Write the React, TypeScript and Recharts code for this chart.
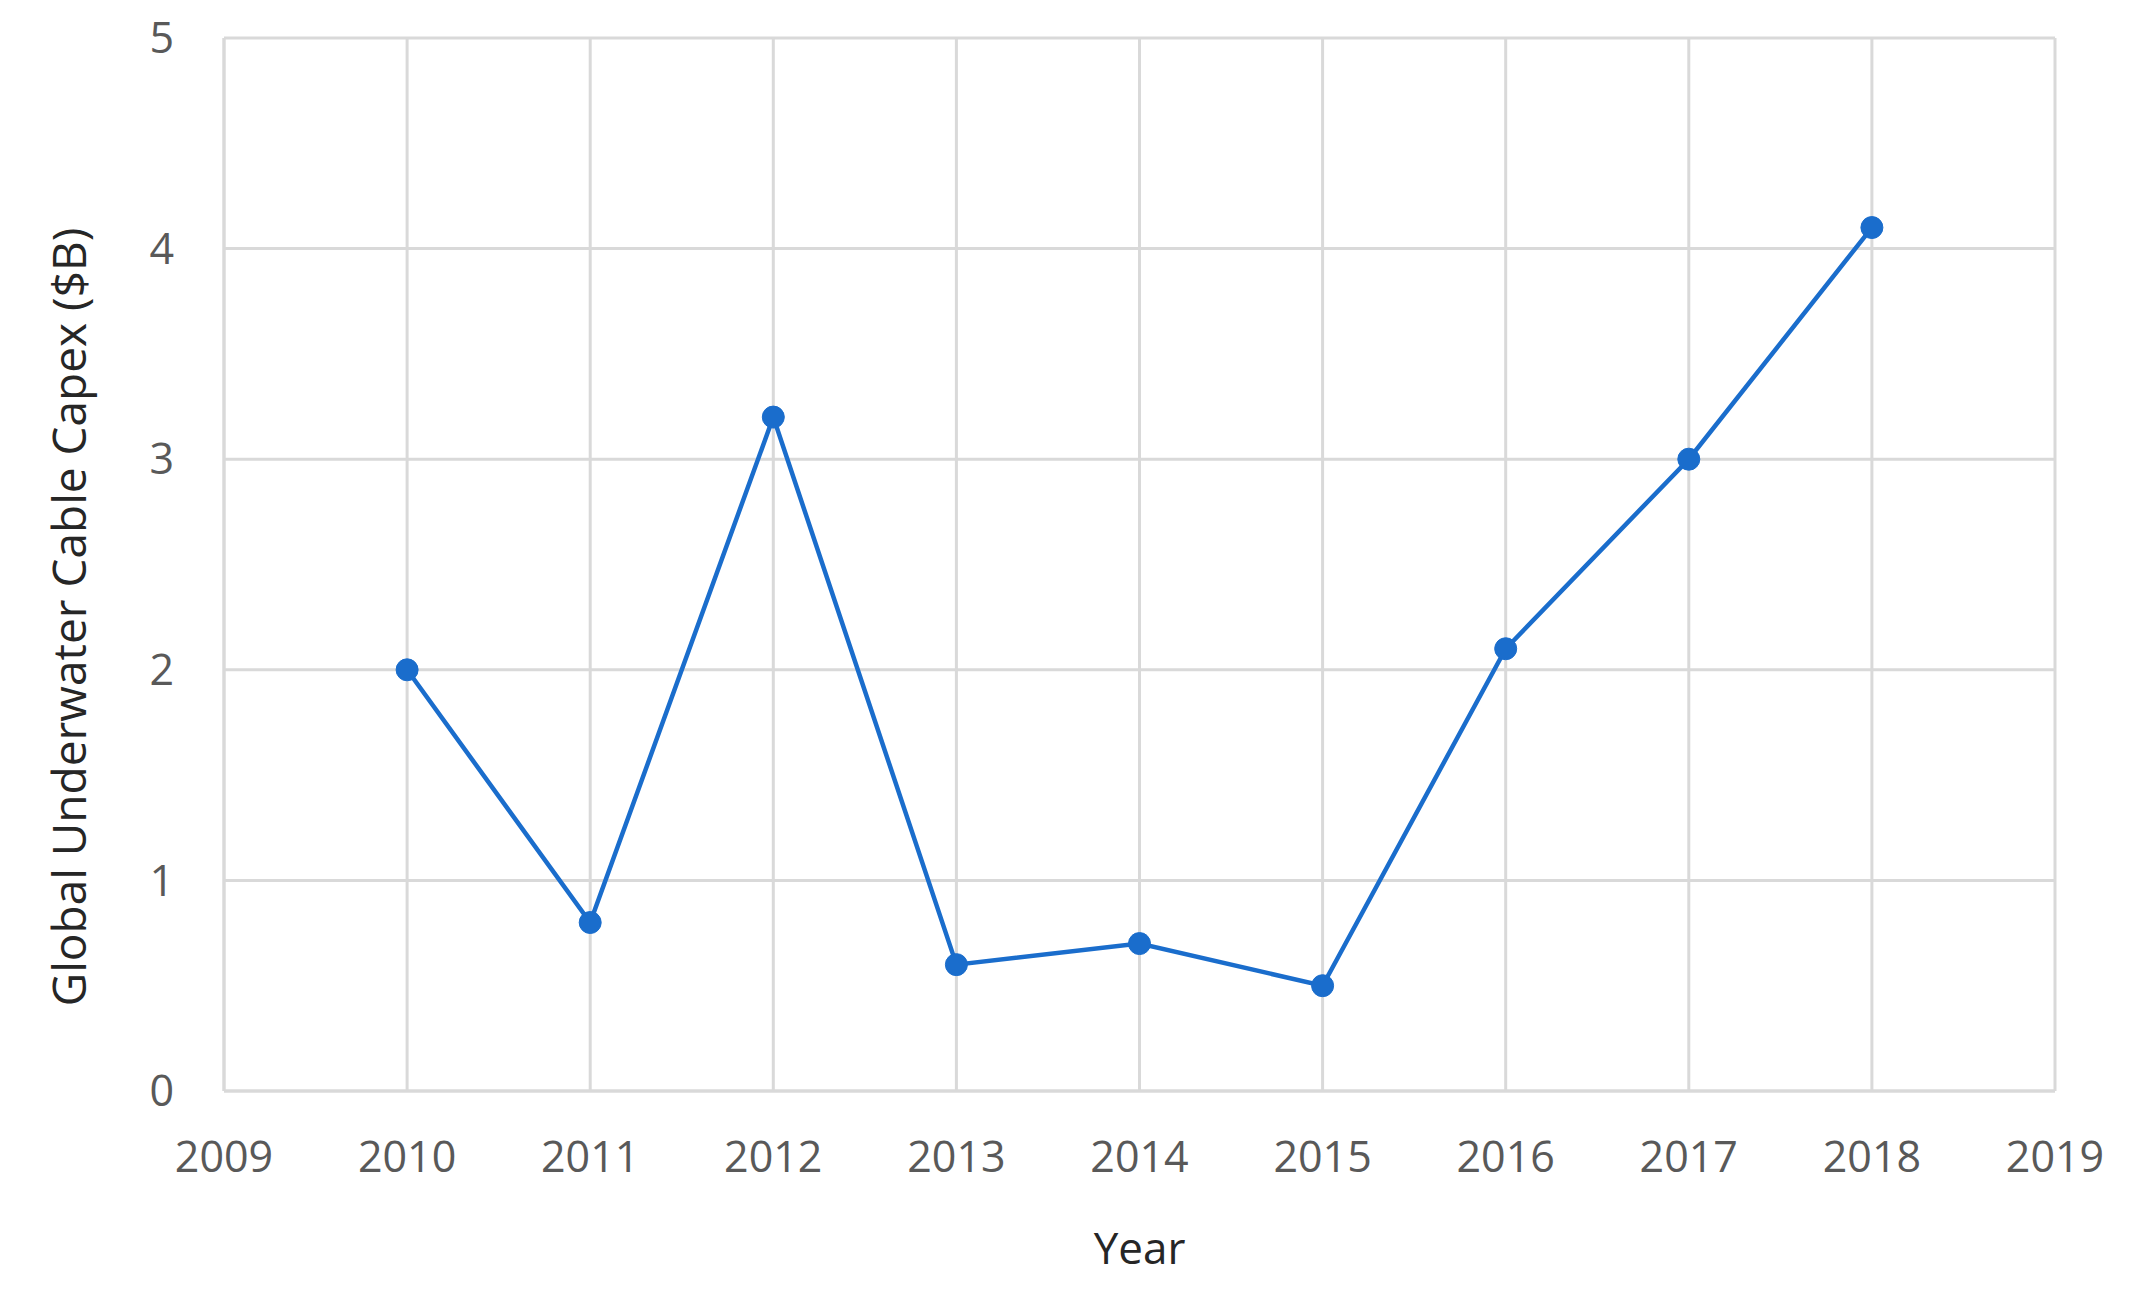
import { LineChart, Line, XAxis, YAxis, CartesianGrid } from 'recharts';

const years = [2010, 2011, 2012, 2013, 2014, 2015, 2016, 2017, 2018];
const capex = [2.0, 0.8, 3.2, 0.6, 0.7, 0.5, 2.1, 3.0, 4.1];
const xTicks = [2009, 2010, 2011, 2012, 2013, 2014, 2015, 2016, 2017, 2018, 2019];
const yTicks = [0, 1, 2, 3, 4, 5];

const data = years.map((year, i) => ({ year, capex: capex[i] }));

const font = '"Open Sans", sans-serif';
const blue = '#1a6dcc';
const gridColor = '#d9d9d9';

export default function App() {
  return (
    <div style={{ position: 'absolute', left: 0, top: 0, background: '#fff' }}>
      <LineChart
        width={2131}
        height={1295}
        data={data}
        margin={{ top: 38, right: 76, bottom: 0, left: 0 }}
        style={{ fontFamily: font }}
      >
        <CartesianGrid stroke={gridColor} strokeWidth={3} />
        <XAxis
          dataKey="year"
          type="number"
          domain={[2009, 2019]}
          ticks={xTicks}
          height={204}
          tickSize={0}
          tickMargin={50}
          axisLine={{ stroke: gridColor, strokeWidth: 3 }}
          tickLine={false}
          tick={{ fill: '#595959', fontSize: 43, fontFamily: font }}
          label={{ value: 'Year', position: 'insideBottom', offset: 31, fill: '#262626', fontSize: 44, fontFamily: font }}
        />
        <YAxis
          type="number"
          domain={[0, 5]}
          ticks={yTicks}
          width={224}
          tickSize={0}
          tickMargin={50}
          axisLine={{ stroke: gridColor, strokeWidth: 3 }}
          tickLine={false}
          tick={{ fill: '#595959', fontSize: 43, fontFamily: font }}
          label={{
            content: () => (
              <text
                x={68}
                y={617}
                transform="rotate(-90 68 617)"
                textAnchor="middle"
                dominantBaseline="central"
                fill="#262626"
                fontSize={46}
                fontFamily={font}
              >
                Global Underwater Cable Capex ($B)
              </text>
            ),
          }}
        />
        <Line
          dataKey="capex"
          stroke={blue}
          strokeWidth={4.5}
          dot={{ r: 11, fill: blue, stroke: blue, strokeWidth: 1 }}
          activeDot={false}
          isAnimationActive={false}
        />
      </LineChart>
    </div>
  );
}
